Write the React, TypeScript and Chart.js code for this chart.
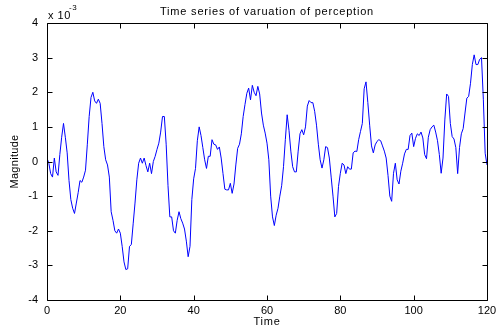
import React, { useEffect, useRef } from "react";
import { Chart, registerables } from "chart.js";

Chart.register(...registerables);

const TITLE = "Time series of varuation of perception";
const X_LABEL = "Time";
const Y_LABEL = "Magnitude";
const Y_EXPONENT = "-3";
const X_TICKS = [0, 20, 40, 60, 80, 100, 120];
const Y_TICKS = [-4, -3, -2, -1, 0, 1, 2, 3, 4];
const SAMPLE_STEP = 0.5; // time units between samples

// magnitude in units of 10^-3, sampled every 0.5 time units from 0 to 120
const MAGNITUDE = [
  0.1, -0.05, -0.35, -0.45, 0.1, -0.3, -0.4, 0.2, 0.7, 1.1,
  0.7, 0.25, -0.55, -1.1, -1.35, -1.5, -1.2, -0.9, -0.55, -0.6,
  -0.45, -0.25, 0.5, 1.3, 1.85, 2.0, 1.75, 1.68, 1.8, 1.68,
  1.1, 0.43, 0.05, -0.1, -0.45, -1.45, -1.7, -2.0, -2.07, -1.95,
  -2.07, -2.45, -2.9, -3.12, -3.1, -2.45, -2.4, -1.8, -1.2, -0.53,
  -0.05, 0.1, -0.05, 0.1, -0.12, -0.3, -0.05, -0.35, 0.0, 0.15,
  0.35, 0.53, 0.85, 1.3, 1.3, 0.5, -0.7, -1.6, -1.6, -2.0,
  -2.07, -1.7, -1.45, -1.65, -1.78, -1.95, -2.3, -2.75, -2.45, -1.1,
  -0.5, -0.2, 0.6, 1.0, 0.75, 0.4, 0.05, -0.2, 0.15, 0.15,
  0.63, 0.5, 0.48, 0.35, 0.42, 0.1, -0.35, -0.8, -0.82, -0.82,
  -0.63, -0.92, -0.65, -0.1, 0.38, 0.5, 0.8, 1.3, 1.65, 1.97,
  2.12, 1.78, 2.2, 2.0, 1.9, 2.17, 1.95, 1.4, 1.05, 0.82,
  0.53, 0.05, -1.0, -1.6, -1.85, -1.55, -1.35, -1.0, -0.7, -0.15,
  0.63, 1.35, 0.9, 0.3, -0.15, -0.3, -0.3, 0.3, 0.8, 0.92,
  0.77, 1.0, 1.6, 1.76, 1.7, 1.7, 1.45, 1.05, 0.5, 0.05,
  -0.19, 0.05, 0.43, 0.4, 0.1, -0.45, -1.0, -1.6, -1.5, -0.72,
  -0.34, -0.05, -0.1, -0.35, -0.15, -0.22, -0.22, 0.25, 0.3, 0.29,
  0.63, 0.87, 1.1, 2.1, 2.3, 1.7, 1.05, 0.45, 0.25, 0.48,
  0.58, 0.63, 0.6, 0.45, 0.3, 0.1, -0.4, -1.0, -1.15, -0.34,
  -0.05, -0.53, -0.65, -0.28, -0.05, 0.22, 0.35, 0.35, 0.75, 0.82,
  0.43, 0.67, 0.8, 0.75, 0.85, 0.68, 0.2, 0.08, 0.7, 0.92,
  1.0, 1.05, 0.85, 0.6, 0.2, -0.34, 0.1, 1.2, 1.95, 1.88,
  1.1, 0.72, 0.65, 0.4, -0.35, 0.4, 0.8, 0.95, 1.4, 1.83,
  1.88, 2.26, 2.8, 3.08, 2.8, 2.8, 2.95, 3.0, 1.8, 0.24,
  -0.1,
];

const FONT = "'Liberation Sans', Arial, Helvetica, sans-serif";

export default function App() {
  const ref = useRef<HTMLCanvasElement>(null);

  useEffect(() => {
    document.body.style.margin = "0";
    const canvas = ref.current;
    if (!canvas) return;
    const points = MAGNITUDE.map((v, i) => ({ x: i * SAMPLE_STEP, y: v }));

    const framePlugin = {
      id: "matlabFrame",
      afterDraw(chart: any) {
        const { ctx, chartArea: a, scales } = chart;
        const xs = scales.x;
        const ys = scales.y;
        const L = Math.round(a.left) + 0.5;
        const R = Math.round(a.right) + 0.5;
        const T = Math.round(a.top) + 0.5;
        const B = Math.round(a.bottom) + 0.5;
        ctx.save();
        ctx.strokeStyle = "#000";
        ctx.lineWidth = 1;
        ctx.beginPath();
        ctx.rect(L, T, R - L, B - T);
        const tl = 5;
        X_TICKS.forEach((t) => {
          const px = Math.round(xs.getPixelForValue(t)) + 0.5;
          ctx.moveTo(px, B);
          ctx.lineTo(px, B - tl);
          ctx.moveTo(px, T);
          ctx.lineTo(px, T + tl);
        });
        Y_TICKS.forEach((t) => {
          const py = Math.round(ys.getPixelForValue(t)) + 0.5;
          ctx.moveTo(L, py);
          ctx.lineTo(L + tl, py);
          ctx.moveTo(R, py);
          ctx.lineTo(R - tl, py);
        });
        ctx.stroke();

        ctx.fillStyle = "#000";
        ctx.textAlign = "center";
        ctx.textBaseline = "middle";
        ctx.font = `11px ${FONT}`;
        const cx = (a.left + a.right) / 2;
        (ctx as any).letterSpacing = "0.8px";
        ctx.fillText(TITLE, cx, 12);
        ctx.fillText(X_LABEL, cx, 322);
        ctx.save();
        ctx.translate(15, (a.top + a.bottom) / 2);
        ctx.rotate(-Math.PI / 2);
        (ctx as any).letterSpacing = "0.3px";
        ctx.fillText(Y_LABEL, 0, 0);
        ctx.restore();

        (ctx as any).letterSpacing = "0.5px";
        ctx.textAlign = "left";
        ctx.textBaseline = "alphabetic";
        ctx.font = `11px ${FONT}`;
        ctx.fillText("x 10", 48, 19);
        ctx.font = `8px ${FONT}`;
        ctx.fillText(Y_EXPONENT, 69, 10);
        ctx.restore();
      },
    };

    const chart = new Chart(canvas, {
      type: "line",
      data: {
        datasets: [
          {
            data: points,
            borderColor: "#0000ff",
            borderWidth: 1,
            pointRadius: 0,
            fill: false,
            tension: 0,
          },
        ],
      },
      options: {
        responsive: false,
        animation: false,
        layout: { padding: { top: 23, right: 17, left: 0, bottom: 0 } },
        plugins: {
          legend: { display: false },
          title: { display: false },
          tooltip: { enabled: false },
        },
        scales: {
          x: {
            type: "linear",
            min: 0,
            max: 120,
            afterBuildTicks: (s: any) => {
              s.ticks = X_TICKS.map((v) => ({ value: v }));
            },
            afterFit: (s: any) => {
              s.height = 29;
            },
            grid: { display: false, drawTicks: false, tickLength: 0 },
            border: { display: false },
            ticks: {
              color: "#000",
              font: { size: 11, family: FONT },
              padding: 4,
              maxRotation: 0,
            },
          },
          y: {
            type: "linear",
            min: -4,
            max: 4,
            afterBuildTicks: (s: any) => {
              s.ticks = Y_TICKS.map((v) => ({ value: v }));
            },
            afterFit: (s: any) => {
              s.width = 47;
            },
            grid: { display: false, drawTicks: false, tickLength: 0 },
            border: { display: false },
            ticks: {
              color: "#000",
              font: { size: 11, family: FONT },
              padding: 9,
            },
          },
        },
      },
      plugins: [framePlugin],
    });
    return () => chart.destroy();
  }, []);

  return (
    <div style={{ width: 504, height: 329 }}>
      <canvas ref={ref} width={504} height={329} />
    </div>
  );
}
